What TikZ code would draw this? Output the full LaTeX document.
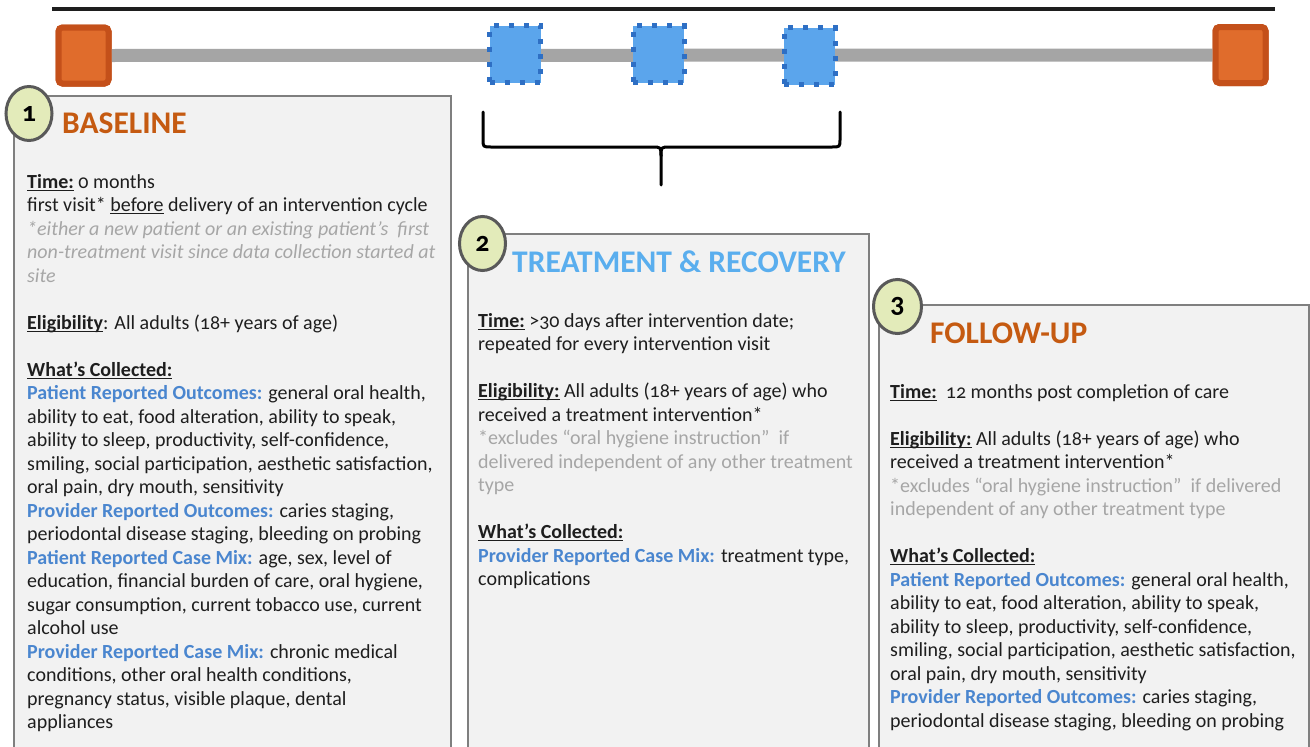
\documentclass[tikz,border=0pt]{standalone}
\usepackage{fontspec}
\setmainfont{Carlito}[Numbers=OldStyle]
\usetikzlibrary{shapes.geometric}
\definecolor{orangefill}{HTML}{E06C2C}
\definecolor{orangeedge}{HTML}{C4501A}
\definecolor{bluefill}{HTML}{5BA5EC}
\definecolor{blueedge}{HTML}{2E6FC4}
\definecolor{barcol}{HTML}{A5A5A5}
\definecolor{panelfill}{HTML}{F2F2F2}
\definecolor{paneledge}{HTML}{7F7F7F}
\definecolor{badgefill}{HTML}{E3EBBA}
\definecolor{badgeedge}{HTML}{595959}
\definecolor{ttlorange}{HTML}{C55A11}
\definecolor{ttlblue}{HTML}{5AAEEE}
\definecolor{lbl}{HTML}{4A86CF}
\definecolor{note}{HTML}{A6A6A6}
\definecolor{body}{HTML}{1E1E1E}
\tikzset{
  x=1pt, y=-1pt,
  endsq/.style={draw=orangeedge, fill=orangefill, line width=6pt, rounded corners=4pt,
    minimum width=50pt, minimum height=56pt, inner sep=0pt},
  midsq/.style={draw=blueedge, fill=bluefill, line width=5pt, dash pattern=on 5pt off 10pt,
    minimum width=51pt, minimum height=57pt, inner sep=0pt},
  panel/.style={draw=paneledge, fill=panelfill, line width=2pt, anchor=north west, inner sep=0pt},
  badge/.style={ellipse, draw=badgeedge, fill=badgefill, line width=3pt, inner sep=0pt,
    minimum width=46pt, minimum height=54pt, font=\fontsize{28}{28}\selectfont\bfseries, text=black},
  ttl/.style={anchor=base west, inner sep=0pt, font=\fontsize{31.5}{34}\selectfont\bfseries},
  txt/.style={anchor=north west, inner sep=0pt, align=left, text=body,
    font=\fontsize{20}{23.5}\selectfont},
  brace/.style={draw=black, line width=3pt, line cap=round, line join=round},
}
\newcommand{\sk}{\rule{0pt}{16pt}}
\newcommand{\ulx}[1]{\setbox0\hbox{#1}\rlap{\rule[-2.6pt]{\wd0}{1.3pt}}\box0\relax}
\newcommand{\hdr}[1]{\ulx{\bfseries #1}}
\newcommand{\lb}[1]{{\color{lbl}\bfseries #1}}
\begin{document}
\begin{tikzpicture}
\useasboundingbox (0,0) rectangle (1310,747);
\fill[white] (0,0) rectangle (1310,747);
% top rule
\coordinate (topL) at (52,9);
\coordinate (topR) at (1275,9);
\draw[line width=4pt, color=body] (topL) -- (topR);
% timeline
\node[endsq] (sqL) at (83.5,55.5) {};
\node[endsq] (sqR) at (1240.5,55) {};
\draw[barcol, line width=13pt] (sqL.east) -- (sqR.west);
\node[endsq] at (83.5,55.5) {};
\node[endsq] at (1240.5,55) {};
\node[midsq] (sqA) at (515,54) {};
\node[midsq] (sqB) at (658.5,54) {};
\node[midsq] (sqC) at (809.5,56) {};
% brace
\coordinate (brL) at (483,112);
\coordinate (brR) at (840,112);
\coordinate (brT) at (661,185);
\draw[brace] (brL) -- (483,139) .. controls (483,147) .. (491,147) -- (652,147)
  .. controls (661,147) .. (661,156) -- (brT);
\draw[brace] (brR) -- (840,139) .. controls (840,147) .. (832,147) -- (670,147)
  .. controls (661,147) .. (661,156);
% panels
\node[panel, minimum width=437pt, minimum height=680pt] (p1) at (13,95) {};
\node[panel, minimum width=401pt, minimum height=540pt] (p2) at (467,233) {};
\node[panel, minimum width=430pt, minimum height=470pt] (p3) at (878,304) {};
% badges
\node[badge] (b1) at (29,113.5) {1};
\node[badge] (b2) at (482.5,243.5) {2};
\node[badge, minimum width=48pt] (b3) at (897.5,306.5) {3};
% titles
\node[ttl, text=ttlorange] (t1) at (62,133) {BASELINE};
\node[ttl, text=ttlblue] (t2) at (512,272) {TREATMENT \& RECOVERY};
\node[ttl, text=ttlorange] (t3) at (930,343) {FOLLOW-UP};
% texts
\node[txt] (x1) at (27,172) {\sk\hdr{Time:} 0 months\\
first visit* \ulx{before} delivery of an intervention cycle\\
{\color{note}\itshape *either a new patient or an existing patient’s~ first}\\
{\color{note}\itshape non-treatment visit since data collection started at}\\
{\color{note}\itshape site}\\[23.5pt]
\hdr{Eligibility}: All adults (18+ years of age)\\[23.5pt]
\hdr{What’s Collected:}\\
\lb{Patient Reported Outcomes:} general oral health,\\
ability to eat, food alteration, ability to speak,\\
ability to sleep, productivity, self-confidence,\\
smiling, social participation, aesthetic satisfaction,\\
oral pain, dry mouth, sensitivity\\
\lb{Provider Reported Outcomes:} caries staging,\\
periodontal disease staging, bleeding on probing\\
\lb{Patient Reported Case Mix:} age, sex, level of\\
education, financial burden of care, oral hygiene,\\
sugar consumption, current tobacco use, current\\
alcohol use\\
\lb{Provider Reported Case Mix:} chronic medical\\
conditions, other oral health conditions,\\
pregnancy status, visible plaque, dental\\
appliances};
\node[txt] (x2) at (478,311) {\sk\hdr{Time:} >30 days after intervention date;\\
repeated for every intervention visit\\[23.5pt]
\hdr{Eligibility:} All adults (18+ years of age) who\\
received a treatment intervention*\\
{\color{note}*excludes “oral hygiene instruction”~ if}\\
{\color{note}delivered independent of any other treatment}\\
{\color{note}type}\\[23.5pt]
\hdr{What’s Collected:}\\
\lb{Provider Reported Case Mix:} treatment type,\\
complications};
\node[txt] (x3) at (890,382) {\sk\hdr{Time:}~ 12 months post completion of care\\[23.5pt]
\hdr{Eligibility:} All adults (18+ years of age) who\\
received a treatment intervention*\\
{\color{note}*excludes “oral hygiene instruction”~ if delivered}\\
{\color{note}independent of any other treatment type}\\[23.5pt]
\hdr{What’s Collected:}\\
\lb{Patient Reported Outcomes:} general oral health,\\
ability to eat, food alteration, ability to speak,\\
ability to sleep, productivity, self-confidence,\\
smiling, social participation, aesthetic satisfaction,\\
oral pain, dry mouth, sensitivity\\
\lb{Provider Reported Outcomes:} caries staging,\\
periodontal disease staging, bleeding on probing};
\end{tikzpicture}
\end{document}
